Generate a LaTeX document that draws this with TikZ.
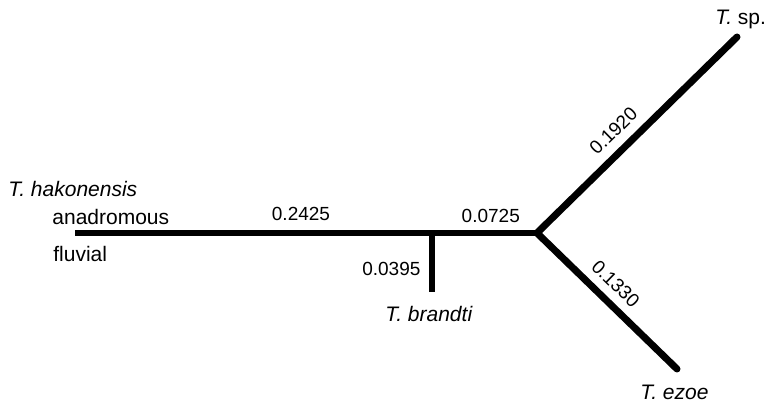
\documentclass[tikz,border=0pt]{standalone}
\usepackage{fontspec}
\setmainfont{Liberation Sans}
\tikzset{
  branch/.style={line width=#1, black},
  lenlabel/.style={font=\fontsize{9.5}{11}\selectfont, inner sep=0pt},
  taxon/.style={font=\fontsize{10.5}{12}\selectfont, inner sep=0pt, anchor=base west},
}
\begin{document}
\begin{tikzpicture}[x=0.5pt, y=-0.5pt]
    \useasboundingbox (0,0) rectangle (767,405);
    % tree points
    \coordinate (hak) at (75,233);
    \coordinate (brj) at (432,233);
    \coordinate (bra) at (432,292);
    \coordinate (root) at (537,233);
    \coordinate (sp) at (737,37);
    \coordinate (ezo) at (677,369);
    % branches
    \draw[branch=2.8pt] (hak) -- node[lenlabel, pos=0.633, above=5pt] {0.2425} (brj)
      -- node[lenlabel, pos=0.56, above=4pt] {0.0725} (root);
    \draw[branch=2.6pt] (brj) -- node[lenlabel, pos=0.61, left=4.5pt] {0.0395} (bra);
    \draw[branch=3.5pt, line join=round, line cap=round] (sp)
      -- node[lenlabel, pos=0.55, sloped, above=4.6pt] {0.1920} (root)
      -- node[lenlabel, pos=0.47, sloped, above=4.2pt] {0.1330} (ezo);
    % taxa
    \node[taxon] (lsp) at (715,25) {\textit{T.} sp.};
    \node[taxon] (lezo) at (640,400) {\textit{T. ezoe}};
    \node[taxon] (lbra) at (385,322) {\textit{T. brandti}};
    \node[taxon] (lhak) at (8,197) {\textit{T. hakonensis}};
    \node[taxon] (lana) at (52,225) {anadromous};
    \node[taxon] (lflu) at (53,262) {fluvial};
  \end{tikzpicture}
\end{document}
